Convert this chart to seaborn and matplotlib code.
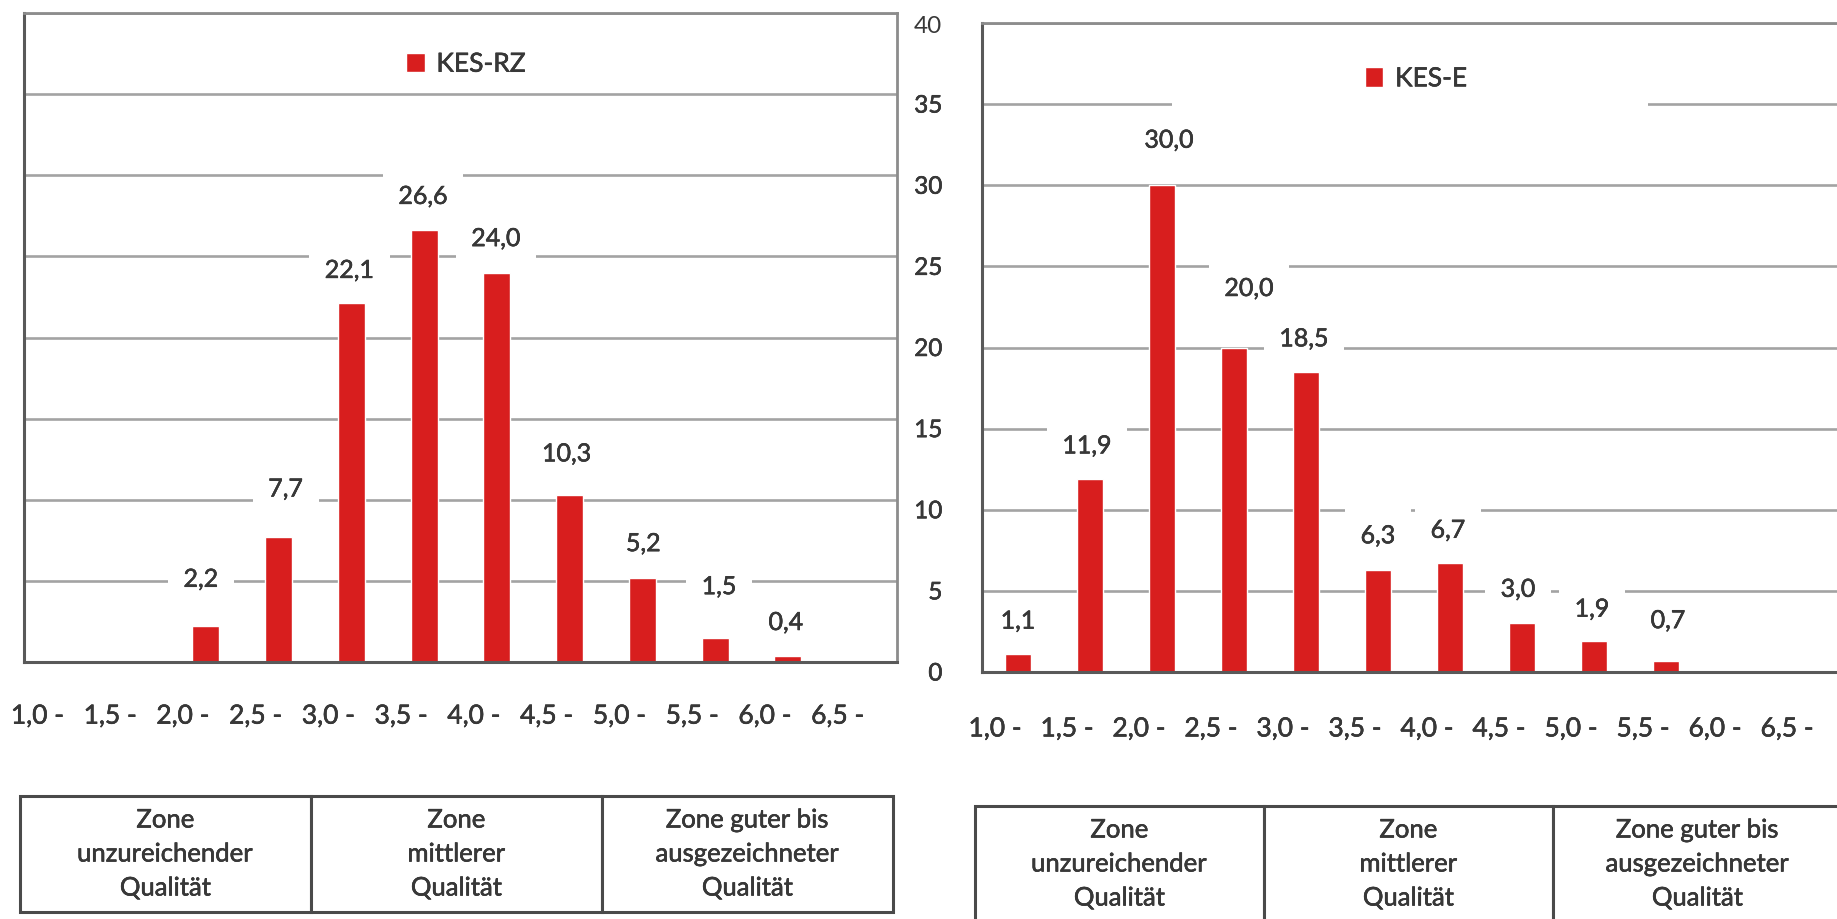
import matplotlib
matplotlib.use("Agg")
import matplotlib.pyplot as plt
from matplotlib.patches import Rectangle
from matplotlib.text import Text
from matplotlib.transforms import ScaledTranslation
import matplotlib.patheffects as pe
import seaborn as sns
import numpy as np

# Score classes (lower bound of each 0.5 band)
classes = ["1,0 -", "1,5 -", "2,0 -", "2,5 -", "3,0 -", "3,5 -",
           "4,0 -", "4,5 -", "5,0 -", "5,5 -", "6,0 -", "6,5 -"]

# Share of cases per class, in percent
kes_rz = [0, 0, 2.2, 7.7, 22.1, 26.6, 24.0, 10.3, 5.2, 1.5, 0.4, 0]
kes_e = [1.1, 11.9, 30.0, 20.0, 18.5, 6.3, 6.7, 3.0, 1.9, 0.7, 0, 0]

series_names = ["KES-RZ", "KES-E"]
y_ticks = [0, 5, 10, 15, 20, 25, 30, 35, 40]

zones = ["Zone\nunzureichender\nQualität",
         "Zone\nmittlerer\nQualität",
         "Zone guter bis\nausgezeichneter\nQualität"]

# Value-label placement (pixels above bar top, horizontal nudge)
rz_lift = [0, 0, 47, 48, 33, 34, 34, 41, 34, 51, 33, 0]
rz_dx = [0, 0, -5, 7, -2, -1, -1, -3, 1, 4, -2, 0]
e_lift = [33, 33, 45, 59, 33, 34, 33, 34, 32, 40, 0, 0]
e_dx = [0, -3, 7, 15, -2, 0, -2, -4, -2, 2, 0, 0]

W, H = 1837, 920
DPI = 100
BAR_RED = "#d81e1e"
TEXT = "#383838"
GRID = "#a3a3a3"
AXIS = "#595959"

sns.set_style("white")
plt.rcParams["font.family"] = ["Lato", "DejaVu Sans"]

fig = plt.figure(figsize=(W / DPI, H / DPI), dpi=DPI)
fig.patch.set_facecolor("white")


def px_box(x0, y_top, w, h):
    return [x0 / W, (H - y_top - h) / H, w / W, h / H]


def fmt(v):
    return f"{v:.1f}".replace(".", ",")


def draw_panel(rect, values, name, lift, dx, show_ylabels, legend_xy,
               legend_patch, xlabel_pad, frame_right):
    ax = fig.add_axes(rect)
    sns.barplot(x=classes, y=values, order=classes, color=BAR_RED,
                saturation=1, width=0.37, label=name, ax=ax, zorder=2)
    ax.set_xlim(-0.5, len(classes) - 0.5)
    ax.set_ylim(y_ticks[0], y_ticks[-1])
    ax.set_xlabel("")
    ax.set_ylabel("")

    ax.set_yticks(y_ticks)
    ax.yaxis.grid(True, color=GRID, lw=1.9)
    ax.xaxis.grid(False)
    ax.set_axisbelow(True)

    ax.set_xticks(range(len(classes)))
    ax.set_xticklabels(classes)
    ax.set_xticks(np.arange(-0.5, len(classes), 1.0), minor=True)
    ax.tick_params(axis="x", which="major", length=0, pad=xlabel_pad,
                   labelsize=19, labelcolor=TEXT)
    ax.tick_params(axis="x", which="minor", direction="out", length=5,
                   width=1.6, color=AXIS)
    ax.tick_params(axis="y", direction="out", length=7.5, width=1.6,
                   color=AXIS, labelsize=17.5, labelcolor=TEXT, pad=21,
                   labelleft=show_ylabels)
    shift = ScaledTranslation(-23 / DPI, 0, fig.dpi_scale_trans)
    for lbl in ax.get_xticklabels():
        lbl.set_transform(lbl.get_transform() + shift)

    for side in ["left", "bottom"]:
        ax.spines[side].set_color(AXIS)
        ax.spines[side].set_linewidth(2.2)
    ax.spines["top"].set_color("#8c8c8c")
    ax.spines["top"].set_linewidth(2.0)
    ax.spines["right"].set_visible(frame_right)
    ax.spines["right"].set_color("#8c8c8c")
    ax.spines["right"].set_linewidth(2.0)

    for i, v in enumerate(values):
        if v <= 0:
            continue
        ax.annotate(fmt(v), xy=(i, v), xytext=(dx[i], lift[i]),
                    textcoords="offset pixels", ha="center", va="center",
                    fontsize=18, color=TEXT, zorder=4,
                    bbox=dict(boxstyle="square,pad=0.62", fc="white",
                              ec="none"))

    if legend_patch is not None:
        ax.add_patch(Rectangle(legend_patch[:2], legend_patch[2],
                               legend_patch[3], transform=ax.transAxes,
                               fc="white", ec="none", zorder=3))
    leg = ax.legend(loc="center", bbox_to_anchor=legend_xy, frameon=False,
                    fontsize=19, handlelength=0.7, handleheight=0.75,
                    handletextpad=0.45, labelcolor=TEXT)
    leg.set_zorder(5)
    return ax


def draw_zone_table(rect):
    tax = fig.add_axes(rect)
    tax.set_xlim(0, 3)
    tax.set_ylim(0, 1)
    tax.axis("off")
    for j, label in enumerate(zones):
        tax.add_patch(Rectangle((j, 0), 1, 1, fc="white", ec="#4a4a4a",
                                lw=2.2, clip_on=False))
        tax.text(j + 0.5, 0.5, label, ha="center", va="center",
                 fontsize=18.5, color=TEXT, linespacing=1.45)
    return tax


# Left panel: KES-RZ
draw_panel(px_box(24, 14, 873, 649), kes_rz, series_names[0], rz_lift, rz_dx,
           show_ylabels=False, legend_xy=(0.506, 0.921), legend_patch=None,
           xlabel_pad=30, frame_right=True)

# Right panel: KES-E (continues past the right edge)
draw_panel(px_box(982, 24, 864, 649), kes_e, series_names[1], e_lift, e_dx,
           show_ylabels=True, legend_xy=(0.502, 0.914),
           legend_patch=(0.22, 0.866, 0.551, 0.086),
           xlabel_pad=32, frame_right=True)

draw_zone_table(px_box(20, 797, 873, 116))
draw_zone_table(px_box(975, 807, 867, 116))

# Give all lettering a slightly heavier stroke
for t in fig.findobj(Text):
    if t.get_text():
        t.set_path_effects([pe.withStroke(linewidth=0.35,
                                          foreground=t.get_color()),
                            pe.Normal()])

fig.savefig("out.png", dpi=DPI, facecolor="white")
